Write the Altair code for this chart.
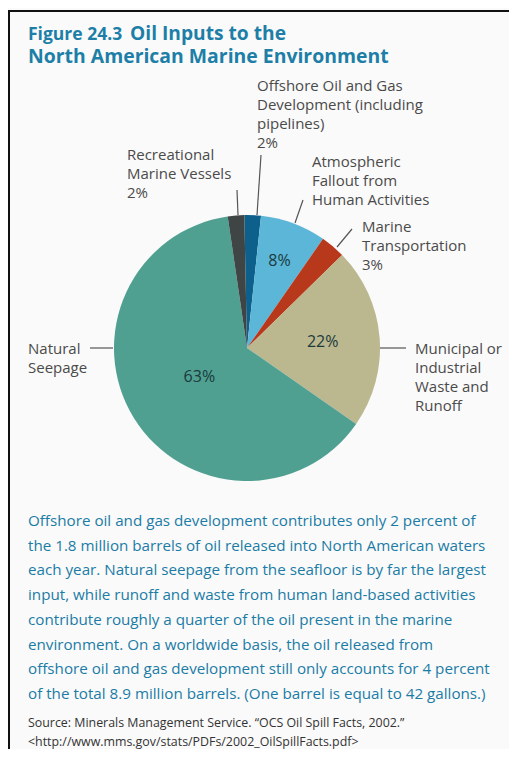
import math
import altair as alt
import pandas as pd

# ---- data ----
categories = [
    "Offshore Oil and Gas Development (including pipelines)",
    "Atmospheric Fallout from Human Activities",
    "Marine Transportation",
    "Municipal or Industrial Waste and Runoff",
    "Natural Seepage",
    "Recreational Marine Vessels",
]
percents = [2, 8, 3, 22, 63, 2]
slice_colors = ["#0d5f8c", "#5cb6d8", "#b8381b", "#bbb78f", "#50a091", "#3f4444"]

title_figure = "Figure 24.3"
title_lines = ["Oil Inputs to the", "North American Marine Environment"]
caption_lines = [
    "Offshore oil and gas development contributes only 2 percent of",
    "the 1.8 million barrels of oil released into North American waters",
    "each year. Natural seepage from the seafloor is by far the largest",
    "input, while runoff and waste from human land-based activities",
    "contribute roughly a quarter of the oil present in the marine",
    "environment. On a worldwide basis, the oil released from",
    "offshore oil and gas development still only accounts for 4 percent",
    "of the total 8.9 million barrels. (One barrel is equal to 42 gallons.)",
]
source_lines = [
    "Source: Minerals Management Service. \u201cOCS Oil Spill Facts, 2002.\u201d",
    "<http://www.mms.gov/stats/PDFs/2002_OilSpillFacts.pdf>",
    "(Accessed March 2004)",
]

df = pd.DataFrame({"cat": categories, "pct": percents, "idx": list(range(len(categories)))})
df["label"] = [f"{p}%" for p in percents]

FONT = "Open Sans"
OFF = 8  # page margin
CX, CY, R = 247 - OFF, 348 - OFF, 133
start = -0.02
theta_scale = alt.Scale(domain=[0, 100], range=[start, start + 2 * math.pi])

base = alt.Chart(df)

pie = base.mark_arc(outerRadius=R).encode(
    x=alt.value(CX),
    y=alt.value(CY),
    theta=alt.Theta("pct:Q", stack=True, scale=theta_scale),
    order=alt.Order("idx:Q"),
    color=alt.Color("cat:N", scale=alt.Scale(domain=categories, range=slice_colors), legend=None),
)

mid = base.transform_window(
    cum="sum(pct)", sort=[alt.SortField("idx")], frame=[None, 0]
).transform_calculate(mid="datum.cum - datum.pct / 2")


def inside(i, r, size=16):
    return mid.transform_filter(f"datum.idx == {i}").mark_text(
        radius=r, font=FONT, fontSize=size, color="#1a3b3c"
    ).encode(
        x=alt.value(CX),
        y=alt.value(CY),
        theta=alt.Theta("mid:Q", stack=None, scale=theta_scale),
        text="label:N",
    )


one = alt.Data(values=[{"k": 1}])


def txt(lines, x, y, size=15, color="#4a4a4a", weight="normal", lh=19):
    return alt.Chart(one).mark_text(
        align="left", baseline="alphabetic", font=FONT, fontSize=size,
        fontWeight=weight, color=color, lineHeight=lh,
    ).encode(x=alt.value(x - OFF), y=alt.value(y - OFF), text=alt.value(lines))


def rule(x1, y1, x2, y2, color="#555555", w=1.2):
    return alt.Chart(one).mark_rule(color=color, strokeWidth=w).encode(
        x=alt.value(x1 - OFF), y=alt.value(y1 - OFF),
        x2=alt.value(x2 - OFF), y2=alt.value(y2 - OFF),
    )


layers = [
    pie,
    inside(1, 93),
    inside(3, 76),
    inside(4, 56),
    # frame
    rule(9, 11, 9, 770, color="#111111", w=2),
    rule(8, 11, 530, 11, color="#111111", w=2),
    # title
    txt(title_figure, 28, 40, size=17.5, color="#1d7fa7", weight="bold"),
    txt(title_lines[0], 130, 40, size=19.2, color="#1d7fa7", weight="bold"),
    txt(title_lines[1], 28, 63, size=19.4, color="#1d7fa7", weight="bold"),
    # callout labels
    txt(["Offshore Oil and Gas", "Development (including", "pipelines)", "2%"], 257, 91),
    txt(["Recreational", "Marine Vessels", "2%"], 127, 160),
    txt(["Atmospheric", "Fallout from", "Human Activities"], 312, 167),
    txt(["Marine", "Transportation", "3%"], 362, 232),
    txt(["Natural", "Seepage"], 28, 354),
    txt(["Municipal or", "Industrial", "Waste and", "Runoff"], 415, 354),
    # leader lines
    rule(261, 155, 257, 215),
    rule(237, 190, 238, 215),
    rule(303, 200, 295, 223),
    rule(352, 229, 337, 247),
    rule(90, 348, 113, 348),
    rule(380, 348, 406, 348),
    # caption
    txt(caption_lines, 28, 526, size=15.2, color="#1b7ca6", lh=24.7),
    txt(source_lines, 28, 727, size=12.4, color="#333333", lh=19),
]

chart = alt.layer(*layers).properties(
    width=517 - 2 * OFF,
    height=757 - 2 * OFF,
    autosize="none",
    padding=0,
    background="#fafafa",
).configure_view(stroke=None)

chart.save("out.html", embed_options={"renderer": "svg", "actions": False})
